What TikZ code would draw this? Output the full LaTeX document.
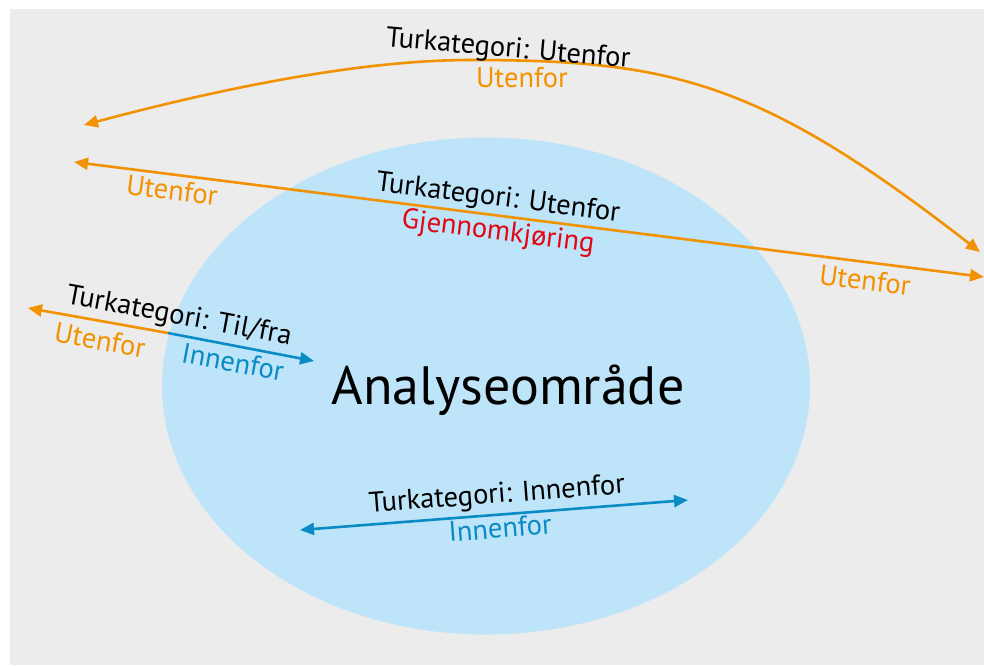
\documentclass[tikz,border=0pt]{standalone}
\usepackage{fontspec}
\setmainfont{PT Sans}
\usetikzlibrary{arrows.meta,shapes.geometric}
\definecolor{bggrey}{HTML}{ECECEC}
\definecolor{ellblue}{HTML}{BDE4F8}
\definecolor{orng}{HTML}{F39200}
\definecolor{blu}{HTML}{0A8BC4}
\definecolor{rd}{HTML}{E30613}
\tikzset{
  conn/.style={line width=2.6pt, {Triangle[length=14pt,width=12pt]}-{Triangle[length=14pt,width=12pt]}},
  oneway/.style={line width=2.6pt, -{Triangle[length=14pt,width=12pt]}},
  lbl/.style={inner sep=0pt, font=\fontsize{28.5}{32}\selectfont},
}
\begin{document}
\begin{tikzpicture}[x=1pt,y=-1pt]
\useasboundingbox (0,0) rectangle (984,665);
\fill[white] (0,0) rectangle (984,665);
\fill[bggrey] (10,9) rectangle (984,665);
\node[ellipse, fill=ellblue, draw=none, minimum width=648pt, minimum height=497pt, inner sep=0pt] (area) at (486,386) {};
\node[inner sep=0pt, font=\fontsize{54}{60}\selectfont] (title) at (508,390) {Analyseområde};

% top curved arrow
\coordinate (ca) at (84,125);
\coordinate (cpeak) at (470,60);
\coordinate (cb) at (980,252);
\draw[conn, orng] (ca) .. controls (200,94) and (350,60) .. (cpeak) .. controls (670,60) and (759,80) .. (cb);
\node[lbl, rotate=-5] (t1) at (508,50) {Turkategori: Utenfor};
\node[lbl, text=orng] (u1) at (522,78) {Utenfor};

% straight long arrow
\coordinate (la) at (74,162);
\coordinate (lb) at (984,277);
\draw[conn, orng] (la) -- (lb);
\node[lbl, rotate=-7.2] (t2) at (498,199) {Turkategori: Utenfor};
\node[lbl, rotate=-7.2, text=rd] (g2) at (498,233) {Gjennomkjøring};
\node[lbl, rotate=-7.2, text=orng] (u2a) at (172,190) {Utenfor};
\node[lbl, rotate=-7.2, text=orng] (u2b) at (865,280) {Utenfor};

% til/fra arrow
\coordinate (ta) at (28,308);
\coordinate (tm) at (168,333);
\coordinate (tb) at (314,361);
\draw[oneway, orng] (tm) -- (ta);
\draw[oneway, blu] (tm) -- (tb);
\node[lbl, rotate=-10.5] (t3) at (179,317) {Turkategori: Til/fra};
\node[lbl, rotate=-10.5, text=orng] (u3) at (100,340) {Utenfor};
\node[lbl, rotate=-10.5, text=blu] (i3) at (233,362) {Innenfor};

% innenfor arrow
\coordinate (ia) at (300,530);
\coordinate (ib) at (688,500);
\draw[conn, blu] (ia) -- (ib);
\node[lbl, rotate=4.4] (t4) at (497,496) {Turkategori: Innenfor};
\node[lbl, rotate=4.4, text=blu] (i4) at (500,528) {Innenfor};
\end{tikzpicture}
\end{document}
